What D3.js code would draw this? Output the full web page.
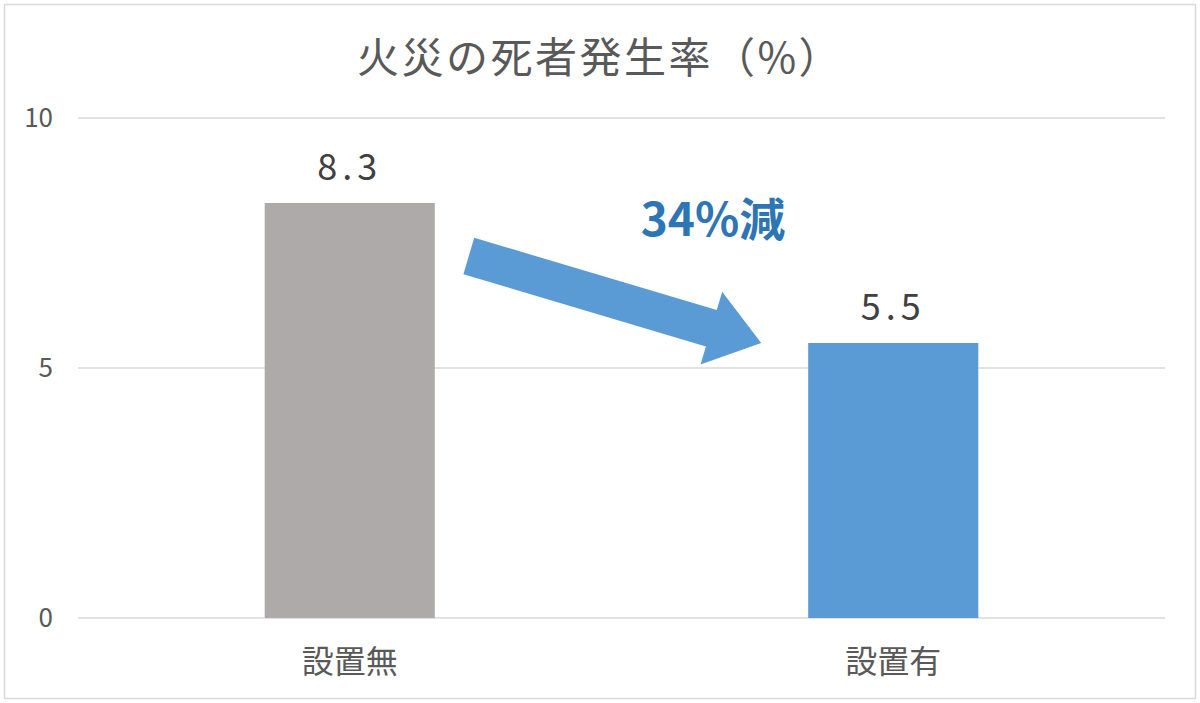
<!DOCTYPE html>
<html lang="ja">
<head>
  <meta charset="UTF-8">
  <title>火災の死者発生率</title>
  <style>
    body { margin: 0; background: #fff; }
    svg { display: block; }
    text { font-family: "Noto Sans CJK JP", "Noto Sans", sans-serif; }
  </style>
</head>
<body>
  <svg id="chart" width="1200" height="703"></svg>
  <script src="https://d3js.org/d3.v7.min.js"></script>
  <script>
    // data
    const categories = ["設置無", "設置有"];
    const values = [8.3, 5.5];
    const barColors = ["#AEAAAA", "#5B9BD5"];
    const yTicks = [0, 5, 10];
    const title = "火災の死者発生率（%）";
    const note = "34%減";

    const svg = d3.select("#chart");

    // outer frame
    svg.append("rect")
      .attr("x", 4.5).attr("y", 4.5)
      .attr("width", 1191).attr("height", 694)
      .attr("fill", "#fff")
      .attr("stroke", "#D9D9D9")
      .attr("stroke-width", 1.5);

    const x = d3.scaleBand()
      .domain(categories)
      .range([78, 1165])
      .paddingInner(0.687)
      .paddingOuter(0.3435);

    const y = d3.scaleLinear().domain([0, 10]).range([618, 118]);

    // gridlines
    svg.append("g")
      .selectAll("line")
      .data(yTicks)
      .join("line")
      .attr("x1", 78).attr("x2", 1165)
      .attr("y1", d => y(d)).attr("y2", d => y(d))
      .attr("stroke", "#D9D9D9")
      .attr("stroke-width", 1.5);

    // y tick labels
    svg.append("g")
      .selectAll("text")
      .data(yTicks)
      .join("text")
      .attr("x", 53)
      .attr("y", d => y(d))
      .attr("dy", "0.35em")
      .attr("text-anchor", "end")
      .attr("fill", "#595959")
      .attr("font-size", 26)
      .text(d => d);

    // bars
    svg.append("g")
      .selectAll("rect")
      .data(values)
      .join("rect")
      .attr("x", (d, i) => x(categories[i]))
      .attr("y", d => y(d))
      .attr("width", x.bandwidth())
      .attr("height", d => y(0) - y(d))
      .attr("fill", (d, i) => barColors[i]);

    // value labels
    svg.append("g")
      .selectAll("text")
      .data(values)
      .join("text")
      .attr("x", (d, i) => x(categories[i]) + x.bandwidth() / 2)
      .attr("y", d => y(d) - 23)
      .attr("text-anchor", "middle")
      .attr("fill", "#404040")
      .attr("font-size", 36)
      .attr("letter-spacing", 5)
      .text(d => d3.format(".1f")(d));

    // category labels
    svg.append("g")
      .selectAll("text")
      .data(categories)
      .join("text")
      .attr("x", d => x(d) + x.bandwidth() / 2)
      .attr("y", 662)
      .attr("dy", "0.35em")
      .attr("text-anchor", "middle")
      .attr("fill", "#595959")
      .attr("font-size", 32)
      .text(d => d);

    // title
    svg.append("text")
      .attr("x", 600)
      .attr("y", 58)
      .attr("dy", "0.35em")
      .attr("text-anchor", "middle")
      .attr("fill", "#595959")
      .attr("font-size", 42)
      .attr("letter-spacing", 2.5)
      .text(title);

    // arrow from first bar toward second bar
    const x0 = x(categories[0]) + x.bandwidth() + 34;
    const y0 = y(values[0]) + 53;
    const x1 = x(categories[1]) - 47;
    const y1 = y(values[1]);
    const ang = Math.atan2(y1 - y0, x1 - x0);
    const len = Math.hypot(x1 - x0, y1 - y0);
    const sw = 19, hw = 38, hl = 52;
    const pts = [
      [0, -sw], [len - hl, -sw], [len - hl, -hw], [len, 0],
      [len - hl, hw], [len - hl, sw], [0, sw]
    ];
    svg.append("polygon")
      .attr("points", pts.map(p => p.join(",")).join(" "))
      .attr("transform", `translate(${x0},${y0}) rotate(${ang * 180 / Math.PI})`)
      .attr("fill", "#5B9BD5");

    svg.append("text")
      .attr("x", 713)
      .attr("y", 220)
      .attr("dy", "0.35em")
      .attr("text-anchor", "middle")
      .attr("fill", "#2E75B6")
      .attr("font-size", 46)
      .attr("font-weight", "bold")
      .text(note);
  </script>
</body>
</html>
